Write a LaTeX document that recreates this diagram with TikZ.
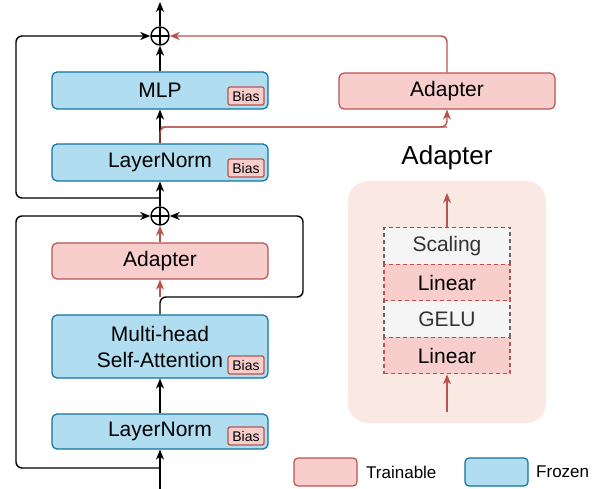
\documentclass[tikz,border=0pt]{standalone}
\usepackage{fontspec}
\setmainfont{Liberation Sans}
\usetikzlibrary{arrows.meta,positioning}
\definecolor{bfill}{HTML}{B1DDF0}
\definecolor{bline}{HTML}{10739E}
\definecolor{rfill}{HTML}{F8CECC}
\definecolor{rline}{HTML}{B85450}
\definecolor{cfill}{HTML}{FAE9E2}
\definecolor{gfill}{HTML}{F5F5F5}
\definecolor{gline}{HTML}{666666}
\definecolor{gtext}{HTML}{333333}
\tikzset{
  base/.style={rectangle, rounded corners=5pt, line width=1.2pt, minimum width=216pt, inner sep=0pt, font=\fontsize{21}{26}\selectfont, align=center},
  frozen/.style={base, fill=bfill, draw=bline},
  train/.style={base, fill=rfill, draw=rline},
  biastag/.style={rectangle, rounded corners=2pt, fill=rfill, draw=rline, line width=1.2pt, minimum width=36pt, minimum height=18pt, inner sep=0pt, font=\fontsize{14}{16}\selectfont, anchor=south east},
  layer/.style={rectangle, dashed, dash pattern=on 4pt off 3pt, line width=1.1pt, minimum width=126pt, minimum height=36.5pt, inner sep=0pt, font=\fontsize{21}{26}\selectfont},
  lin/.style={layer, fill=rfill, draw=rline},
  act/.style={layer, fill=gfill, draw=gline, text=gtext},
  oplus/.style={circle, draw, line width=1.4pt, minimum size=18pt, inner sep=0pt, path picture={\draw[line width=1.2pt] (path picture bounding box.north) -- (path picture bounding box.south) (path picture bounding box.west) -- (path picture bounding box.east);}},
  arr/.style={line width=1.4pt, draw=black, -{Stealth[length=10pt,width=8pt,inset=3pt]}, rounded corners=6pt},
  rarr/.style={line width=1.4pt, draw=rline, -{Stealth[length=10pt,width=8pt,inset=3pt]}, rounded corners=6pt},
  legbox/.style={rectangle, rounded corners=4pt, line width=1.2pt, minimum width=63pt, minimum height=28pt, inner sep=0pt},
  legtext/.style={anchor=west, font=\fontsize{17}{20}\selectfont, inner sep=0pt}
}
\begin{document}
\begin{tikzpicture}[x=1pt,y=-1pt]
\useasboundingbox (0,0) rectangle (611,489);
% main column
\node[frozen, minimum height=37pt] (mlp) at (160,90.5) {MLP};
\node[frozen, minimum height=37pt] (ln2) at (160,162.5) {LayerNorm};
\node[train, minimum height=36pt] (ad1) at (160,261) {Adapter};
\node[frozen, minimum height=63pt] (mhsa) at (160,346.5) {Multi-head\\Self-Attention};
\node[frozen, minimum height=35pt] (ln1) at (160,431.5) {LayerNorm};
\node[biastag] (bias1) at ([xshift=-4pt,yshift=4pt]mlp.south east) {Bias};
\node[biastag] (bias2) at ([xshift=-4pt,yshift=4pt]ln2.south east) {Bias};
\node[biastag] (bias3) at ([xshift=-4pt,yshift=4pt]mhsa.south east) {Bias};
\node[biastag] (bias4) at ([xshift=-4pt,yshift=4pt]ln1.south east) {Bias};
\node[oplus] (op1) at (160,36) {};
\node[oplus] (op2) at (160,216) {};
% side adapter
\node[train, minimum height=36pt] (ad2) at (447,91) {Adapter};
% coordinates
\coordinate (in) at (160,489);
\coordinate (out) at (160,2);
\coordinate (b1) at (160,468);
\coordinate (b2) at (160,198);
\coordinate (b3) at (160,297);
\coordinate (b4) at (160,127);
% connectors
\draw[arr] (in) -- (ln1.south);
\draw[arr] (ln1.north) -- (mhsa.south);
\draw[rarr] (b3) -- (ad1.south);
\draw[arr] (mhsa.north) -- (b3) -- (303,297) |- (op2.east);
\draw[arr] (b1) -- (16,468) |- (op2.west);
\draw[rarr] (ad1.north) -- (op2.south);
\draw[arr] (op2.north) -- (ln2.south);
\draw[arr] (b2) -- (16,198) |- (op1.west);
\draw[rarr] (b4) -- (447,127) -- (ad2.south);
\draw[arr] (ln2.north) -- (mlp.south);
\draw[line width=1.4pt, draw=rline, rounded corners=6pt] (ln2.north) -- (b4) -- (447,127);
\draw[rarr] (ad2.north) |- (op1.east);
\draw[arr] (mlp.north) -- (op1.south);
\draw[arr] (op1.north) -- (out);
% adapter detail
\node[font=\fontsize{26}{30}\selectfont] (title) at (447,158) {Adapter};
\node[rectangle, rounded corners=20pt, fill=cfill, minimum width=198pt, minimum height=242pt, inner sep=0pt] (cont) at (447,302) {};
\node[act] (sc) at (447,246) {Scaling};
\node[act] (ge) at (447,319) {GELU};
\node[lin] (lb) at (447,282.5) {Linear};
\node[lin] (la) at (447,355.5) {Linear};
\coordinate (cin) at (447,412);
\coordinate (cout) at (447,193);
\draw[rarr] (cin) -- (la.south);
\draw[rarr] (sc.north) -- (cout);
% legend
\node[legbox, fill=rfill, draw=rline] (lt) at (325.5,472) {};
\node[legtext] (ltt) at (366,472) {Trainable};
\node[legbox, fill=bfill, draw=bline] (lf) at (496.5,472) {};
\node[legtext] (lft) at (536,472) {Frozen};
\end{tikzpicture}
\end{document}
